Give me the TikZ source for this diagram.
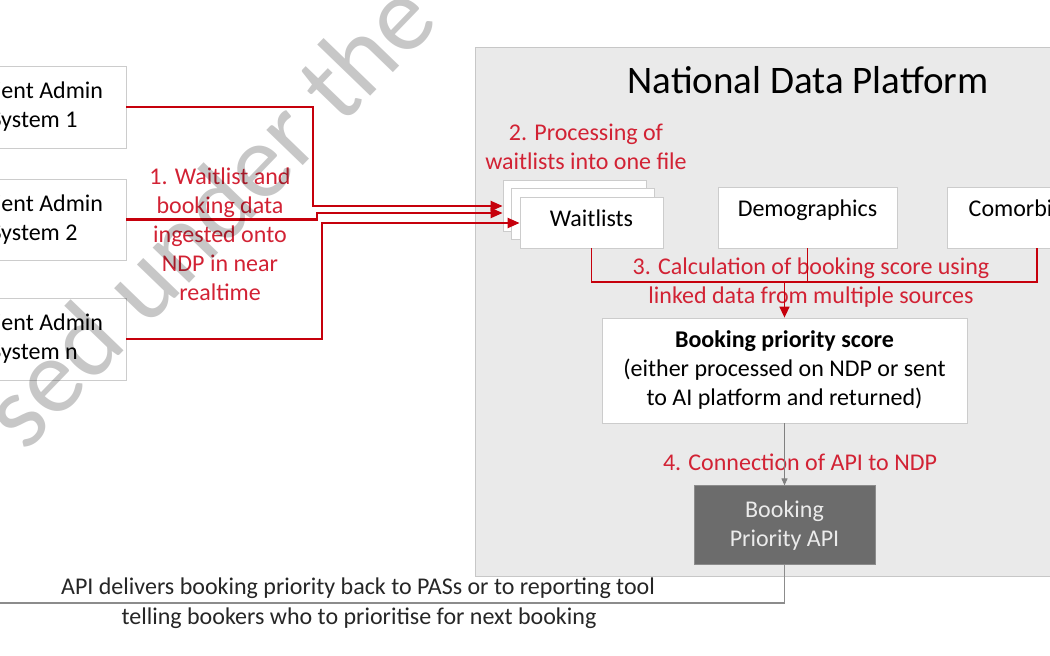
\documentclass[tikz,border=0pt]{standalone}
\usepackage{fontspec}
\setmainfont{Carlito}
\usetikzlibrary{positioning,arrows.meta,calc}
\definecolor{ndpred}{RGB}{198,0,12}
\definecolor{notered}{RGB}{210,34,52}
\definecolor{ndpgrey}{RGB}{234,234,234}
\definecolor{apigrey}{RGB}{108,108,108}

\begin{document}
\begin{tikzpicture}[x=1pt,y=-1pt,
plain/.style={
% The shape:
rectangle,
% The border:
draw=black!20, line width=0.8pt,
% The filling:
fill=white,
% Font
inner sep=0pt, align=center,
font=\fontsize{24}{29}\selectfont
}, platform/.style={
rectangle, draw=black!22, line width=1pt, fill=ndpgrey, inner sep=0pt
}, api/.style={
rectangle, draw=black!45, fill=apigrey, inner sep=0pt,
minimum width=181, minimum height=79, align=center,
text=black!8, font=\fontsize{24}{29}\selectfont
}, note/.style={
% red remarks next to the steps
align=center, text=notered, inner sep=0pt,
font=\fontsize{24}{29}\selectfont
}, caption/.style={
inner sep=0pt, text=black!85, font=\fontsize{24}{29}\selectfont
},
ingest/.style={draw=ndpred, line width=2.2pt, -{Triangle[length=12pt,width=10pt]}},
link/.style={draw=ndpred, line width=1.6pt},
feed/.style={draw=black!50, line width=1pt, -{Triangle[length=7pt,width=6pt]}},
ret/.style={draw=black!45, line width=1.4pt},
watermark/.style={text=black, opacity=0.22, font=\fontsize{106}{110}\selectfont, inner sep=0pt}
]
\useasboundingbox (0,0) rectangle (1050,656);

% source systems on the left
\node (pas1) [plain, minimum width=184, minimum height=82] at (34,107) {Patient Admin\\System 1};
\node (pas2) [plain, minimum width=184, minimum height=81] at (34,219.5) {Patient Admin\\System 2};
\node (pas3) [plain, minimum width=184, minimum height=82] at (34,339) {Patient Admin\\System n};

% the platform
\node (ndp) [platform, minimum width=585, minimum height=529] at (767.5,311.5) {};
\node (title) [inner sep=0pt, font=\fontsize{39}{45}\selectfont] at (808,80) {National Data Platform};

\node (wlb) [plain, minimum width=143, minimum height=51] at (574.5,205.5) {};
\node (wlm) [plain, minimum width=143, minimum height=51] at (583,213.5) {};
\node (wl) [plain, minimum width=143, minimum height=51, text depth=9pt] at (591.5,222.5) {Waitlists};
\node (dg) [plain, minimum width=179, minimum height=61, text depth=18pt] at (807.5,217.5) {Demographics};
\node (cm) [plain, minimum width=180, minimum height=61, text depth=18pt] at (1037,217.5) {Comorbidities};
\node (score) [plain, minimum width=365, minimum height=105] at (784.5,370.5)
  {\textbf{Booking priority score}\\(either processed on NDP or sent\\to AI platform and returned)};
\node (api) [api, below=62pt of score] {Booking\\Priority API};

% remarks
\node (n1) [note] at (220,234) {1. Waitlist and\\booking data\\ingested onto\\NDP in near\\realtime};
\node (n2) [note] at (586,146.5) {2. Processing of\\waitlists into one file};
\node (n3) [note] at (811,282.5) {3. Calculation of booking score using\\linked data from multiple sources};
\node (n4) [note] at (800,462) {4. Connection of API to NDP};
\node (c1) [caption] at (358,588) {API delivers booking priority back to PASs or to reporting tool};
\node (c2) [caption] at (359,618) {telling bookers who to prioritise for next booking};

% ingest into the platform
\coordinate (j1) at (313,206);
\coordinate (j2) at (317,213);
\coordinate (j3) at (322,223);
\draw[ingest] (pas1.east) -| (j1) -- (wlb.west |- j1);
\draw[ingest] (pas2.east) -| (j2) -- (wlb.west |- j2);
\draw[ingest] (pas3.east) -| (j3) -- (wl.west |- j3);

% linking the sources
\coordinate (mg) at (786,282);
\draw[link] (wl.south) |- (cm.south |- mg) -- (cm.south);
\draw[link] (dg.south) -- (dg.south |- mg);
\draw[link, -{Triangle[length=11pt,width=10pt]}] (score.north |- mg) -- (score.north);

\path (score) edge[feed] (api);
\coordinate (back) at (-10,603);
\draw[ret] (api.south) |- (back);

\node (wm) [watermark, rotate=46] at (207,213) {sed under the};
\end{tikzpicture}
\end{document}
